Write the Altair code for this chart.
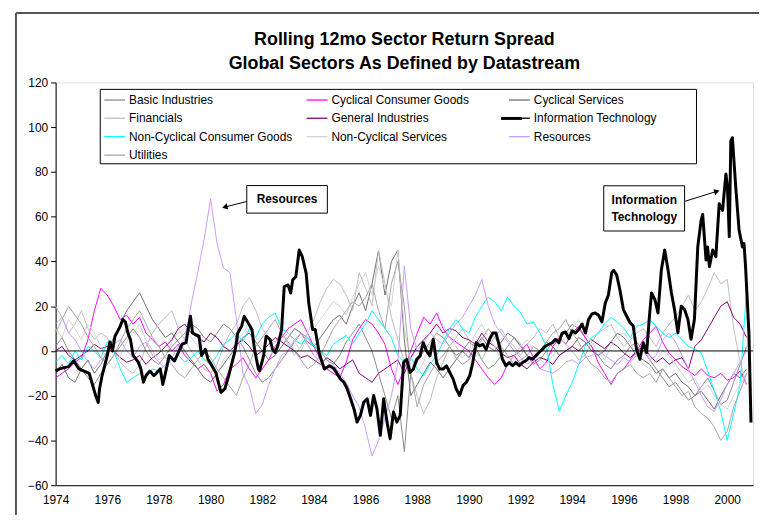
import altair as alt
import pandas as pd

SERIES = ["Basic Industries", "Cyclical Consumer Goods", "Cyclical Services",
          "Financials", "General Industries", "Information Technology",
          "Non-Cyclical Consumer Goods", "Non-Cyclical Services", "Resources", "Utilities"]
COLORS = ["#8C8C8C", "#FF00FF", "#6E6E6E", "#BEBEBE", "#800080", "#000000",
          "#00FFFF", "#D2D2D2", "#CC99FF", "#A6A6A6"]

TITLE_LINES = ["Rolling 12mo Sector Return Spread", "Global Sectors As Defined by Datastream"]

# quarterly readings 1974.00 ... 2000.75 (4 per year)
quarters = [1974 + q / 4 for q in range(108)]

basic = [2, 6, 0, -4, -8, -12, -15, -10, -6, -2, 2, 6, 10, 6, 0, -4,
         -6, -2, 2, 5, 8, 12, 10, 6, 4, 8, 12, 10, 6, 2, -4, -10,
         -14, -12, -8, -4, 0, 4, 8, 6, 2, 0, -4, -6, -2, 4, 8, 12,
         6, 0, -10, -20, -30, -20, -45, -10, -5, 0, 4, 8, 6, 2, -2, 0,
         4, 2, -4, -8, -6, -2, 2, 6, 3, -2, -6, -4, 0, 4, 6, 8,
         12, 10, 6, 2, -2, -6, -8, -4, -2, 2, 4, 0, -4, -8, -12, -16,
         -14, -18, -22, -20, -16, -12, -18, -24, -22, -14, -6, 2]
cyc_consumer = [-12, -10, -8, -5, -3, 5, 18, 28, 25, 20, 14, 16, 12, 15, 8, 5,
                2, 4, 0, 3, -2, -5, -8, -6, -10, -18, -15, -8, -6, -3, -8, -12,
                -8, -4, 2, 6, 10, 12, 14, 8, 2, -4, -8, -10, -12, -5, 5, 10,
                14, 12, 8, 3, -8, -15, -8, 0, 8, 15, 12, 17, 10, 6, 4, 2,
                0, -4, -8, -12, -15, -12, -6, -2, 0, 3, -3, -8, -5, 2, 6, 3,
                8, 11, 6, 2, -5, -10, -15, -10, -8, -4, 0, 5, 8, 11, 4, -1,
                -4, -7, -9, -11, -8, -11, -12, -10, -13, -12, -9, -15]
cyc_services = [-10, -6, -12, -14, -8, -4, -10, -6, 0, 6, 12, 18, 22, 26, 20, 14,
                10, 6, 8, 4, 0, -4, -8, -12, -14, -10, -6, -2, 2, 6, 8, 4,
                0, -4, -2, 2, 6, 10, 8, 4, 2, 6, 10, 14, 16, 12, 20, 26,
                18, 30, 45, 25, 40, 45, 5, -20, -15, -10, -5, -8, -12, -8, -4, 0,
                -3, 2, 6, 2, 0, 4, 8, 6, 2, -2, -4, 0, 4, 2, -2, 0,
                2, 6, 4, 0, -2, 0, 4, 8, 6, 2, -2, -4, -6, -10, -8, -12,
                -10, -14, -16, -20, -18, -22, -26, -20, -15, -10, -12, -8]
financials = [20, 15, 8, 12, 18, 10, 5, 8, 6, 0, -5, -8, -10, -6, 2, 8,
              12, 15, 18, 10, 5, 0, -4, -8, -10, -6, 2, 8, 12, 20, 24, 18,
              10, 6, 4, 8, 3, -2, 2, 8, 14, 22, 28, 32, 30, 25, 18, 35,
              28, 20, 45, 30, 15, 5, -5, -10, -20, -28, -22, -12, -5, 2, 6, 10,
              5, 0, -4, 2, 6, 10, 5, 2, -2, 3, 6, 10, 8, 12, 6, 3,
              0, -4, -2, 4, 8, 10, 12, 6, 2, 5, 8, 10, 6, 2, 8, 12,
              15, 20, 25, 18, 22, 28, 35, 30, 32, 10, -5, -15]
general_ind = [0, 2, -2, -4, -2, 0, 3, 1, 2, 0, -3, -5, -4, -2, -6, -3,
               -1, 2, 5, 10, 12, 8, 6, 4, 8, 6, 2, 0, 3, 5, 2, -2,
               0, 3, 6, 4, 2, 0, -3, -2, -4, -6, -3, -5, -8, -6, -4, -10,
               -12, -14, -10, -8, -6, -4, -10, -3, 2, 5, 8, 12, 8, 10, 9, 6,
               5, 3, 8, 4, 2, -1, -3, -2, -6, -8, -5, -3, -4, -6, -2, 0,
               2, 0, 3, 5, 3, 1, 4, 2, -1, -3, 0, 2, -2, -5, -3, -6,
               -4, -3, -8, 2, 5, 10, 15, 20, 22, 15, 12, 6]
nc_consumer = [-5, -2, -6, 0, -4, 2, 0, -3, 4, 0, -8, -14, -12, -10, -12, -8,
               -9, -6, -4, -2, -5, -3, 0, -4, -6, -2, 3, 5, 8, 4, 10, 6,
               12, 15, 17, 10, 8, 5, 3, 6, 2, 0, -2, 3, 5, 7, 3, 8,
               12, 18, 14, 10, 6, -2, -5, -3, -8, -11, -6, -2, 4, 10, 14, 10,
               8, 15, 20, 24, 22, 18, 24, 20, 17, 12, 13, 8, 2, -15, -27, -20,
               -14, -6, 2, 6, 8, 12, 15, 13, 10, 6, 11, 12, 14, 11, 8, 6,
               8, 5, 2, 1, -1, -9, -18, -27, -40, -28, -15, 28]
nc_services = [10, 6, 14, 10, 5, 12, 8, 2, -4, -8, -2, 4, 8, 12, 5, 0,
               -4, -2, 4, 8, 10, 6, 2, -3, -6, -10, -4, 0, 4, 8, 12, 6,
               2, -2, 0, 5, 8, 4, 0, 6, 10, 14, 18, 22, 20, 16, 24, 30,
               35, 25, 38, 28, 20, 45, 10, -5, -10, -5, 4, 8, 12, 6, 2, -3,
               0, 8, 12, 6, 2, -4, -6, -2, 2, 5, 0, -4, -6, -2, 3, 6,
               10, 14, 8, 4, 0, -4, 2, 6, 8, 4, -2, -6, -8, -4, 0, -2,
               -6, -10, -14, -12, -18, -15, -20, -24, -26, -20, -15, -10]
resources = [12, 15, 8, 5, 0, -5, -8, -4, -2, 3, 5, 0, -3, 2, 4, -2,
             -5, -8, -3, 2, 5, 21, 35, 50, 68, 48, 37, 35, 14, -10, -16, -28,
             -24, -15, -8, -2, 0, 5, 8, 3, -2, -5, -8, -6, -10, -14, -20, -25,
             -35, -47, -40, -30, -20, -5, 38, 10, 0, 4, 8, 5, 3, 8, 12, 15,
             20, 25, 32, 20, 12, 8, 4, 0, -3, -6, -4, -8, -9, -10, -8, -5,
             -4, -6, -3, -2, 0, -2, -4, -6, -3, -5, -2, 2, -4, -2, 5, 8,
             4, -2, -8, -14, -20, -25, -27, -22, -15, -10, -5, 0]
utilities = [8, 14, 20, 16, 12, 6, 2, -3, -6, -2, 4, 10, 14, 18, 12, 6,
             2, -3, -6, -10, -12, -8, -4, 0, -3, -8, -12, -16, -20, -12, -6, 2,
             6, 10, 14, 8, 4, 0, -4, -8, -6, -2, 4, 10, 14, 18, 22, 20,
             24, 30, 18, 10, 30, 40, 20, -10, -25, -15, -10, -5, -2, 2, -3, -6,
             -4, 0, 5, 10, 6, 2, -2, -6, -4, -2, 2, 0, 4, 8, 10, 14,
             8, 4, -2, -6, -8, -12, -14, -10, -8, -6, -10, -12, -10, -14, -8, -12,
             -16, -20, -18, -25, -28, -30, -34, -40, -36, -25, -18, -10]

# Information Technology, read at roughly monthly resolution
it_years = [1974.0, 1974.15, 1974.5, 1974.7, 1974.9, 1975.1, 1975.3, 1975.4, 1975.55, 1975.65,
            1975.7, 1975.8, 1976.0, 1976.1, 1976.2, 1976.3, 1976.5, 1976.6, 1976.7, 1976.8,
            1976.9, 1977.0, 1977.2, 1977.3, 1977.4, 1977.5, 1977.65, 1977.8, 1977.9, 1978.05,
            1978.15, 1978.25, 1978.4, 1978.6, 1978.75, 1978.9, 1979.05, 1979.15, 1979.22, 1979.3,
            1979.4, 1979.55, 1979.65, 1979.8, 1979.9, 1980.05, 1980.2, 1980.3, 1980.4, 1980.55,
            1980.7, 1980.8, 1980.95, 1981.05, 1981.2, 1981.3, 1981.45, 1981.6, 1981.7, 1981.85,
            1981.9, 1982.05, 1982.15, 1982.3, 1982.4, 1982.5, 1982.6, 1982.75, 1982.85, 1983.0,
            1983.1, 1983.18, 1983.3, 1983.43, 1983.55, 1983.7, 1983.8, 1983.95, 1984.05, 1984.2,
            1984.4, 1984.6, 1984.78, 1985.03, 1985.16, 1985.29, 1985.42, 1985.55, 1985.67, 1985.8,
            1985.93, 1986.06, 1986.19, 1986.31, 1986.44, 1986.57, 1986.7, 1986.83, 1986.95, 1987.08,
            1987.21, 1987.34, 1987.47, 1987.59, 1987.72, 1987.85, 1987.98, 1988.11, 1988.23, 1988.36,
            1988.49, 1988.62, 1988.75, 1988.87, 1989.0, 1989.13, 1989.26, 1989.39, 1989.51, 1989.64,
            1989.77, 1989.9, 1990.03, 1990.15, 1990.28, 1990.41, 1990.54, 1990.67, 1990.8, 1990.92,
            1991.05, 1991.18, 1991.3, 1991.43, 1991.56, 1991.69, 1991.82, 1991.95, 1992.07, 1992.2,
            1992.33, 1992.46, 1992.59, 1992.71, 1992.84, 1992.97, 1993.1, 1993.23, 1993.35, 1993.48,
            1993.61, 1993.74, 1993.87, 1994.0, 1994.12, 1994.25, 1994.38, 1994.51, 1994.63, 1994.76,
            1994.89, 1995.02, 1995.15, 1995.28, 1995.4, 1995.53, 1995.6, 1995.72, 1995.85, 1995.98,
            1996.11, 1996.24, 1996.36, 1996.49, 1996.62, 1996.75, 1996.88, 1997.0, 1997.07, 1997.2,
            1997.32, 1997.45, 1997.58, 1997.71, 1997.84, 1997.96, 1998.09, 1998.22, 1998.35, 1998.48,
            1998.6, 1998.73, 1998.86, 1998.99, 1999.05, 1999.18, 1999.24, 1999.31, 1999.44, 1999.56,
            1999.69, 1999.82, 1999.95, 2000.01, 2000.08, 2000.14, 2000.2, 2000.33, 2000.46, 2000.59,
            2000.65, 2000.71, 2000.84, 2000.92]
it_vals = [-9, -8, -7, -4.4, -8, -9, -10, -14, -20, -23,
           -17, -11, -2, 4, 0, 6.6, 11, 14, 13, 8,
           5, -2, -5, -8, -14, -11, -9, -11, -10, -8,
           -15, -10, -2, -4.5, -0.7, 3, 3.7, 11, 15.5, 8,
           7.4, 6.6, -2, 0.7, -3.7, -6.6, -9.6, -14, -18.5, -17,
           -11, -6.6, 0.2, 8, 11, 15.5, 12.6, 9.6, 0.7, -8,
           -8.9, -2.2, 6.6, 5.2, 0.7, -0.7, 2.2, 9.6, 28.8, 29.5,
           25.9, 31.8, 33.2, 45.1, 42.1, 34.7, 21.4, 9.6, 9.6, -0.7,
           -8.1, -6.6, -8, -12.6, -14, -17, -21.4, -25.9, -31.8, -28.8,
           -22.9, -21.4, -28.8, -19.9, -25.9, -37.7, -21.4, -31.8, -39.2, -27.3,
           -31.8, -28.8, -5.2, -3.7, -9.6, -8.1, -3.7, -2.2, 3.7, 0,
           -2.2, 5.2, -5.2, -8.1, -8.1, -6.6, -9.6, -12.6, -17, -19.9,
           -15.5, -14, -11.1, -5.2, 3.7, 2.2, 3, 0.7, 5.2, 8,
           8, 2.2, -3.7, -6.6, -5.2, -6.6, -5.2, -6.6, -5.2, -4.4,
           -3, -3.7, -2.2, -0.7, 0.7, 2.2, 3, 3.7, 5.2, 3.7,
           8, 8.5, 5.5, 9, 8, 9.6, 12, 8, 14, 16.5,
           17, 16, 13, 21.4, 25, 35, 36, 34, 27, 18.5,
           15.5, 12.6, 11.1, 0.7, -3.7, 3.7, -0.7, 17, 25.9, 22.9,
           17, 36.2, 45.1, 36.2, 25.9, 18.5, 8.1, 20, 18.5, 14,
           5.2, 14, 46.5, 58.4, 61, 40.6, 46.5, 37.7, 45.1, 42.1,
           65.8, 62.8, 79.1, 73.2, 51, 93.9, 95.3, 73.2, 53.9, 46.5,
           48, 37.7, 8.1, -32]

thin_lists = {
    "Basic Industries": basic,
    "Cyclical Consumer Goods": cyc_consumer,
    "Cyclical Services": cyc_services,
    "Financials": financials,
    "General Industries": general_ind,
    "Non-Cyclical Consumer Goods": nc_consumer,
    "Non-Cyclical Services": nc_services,
    "Resources": resources,
    "Utilities": utilities,
}

rows = []
for name, vals in thin_lists.items():
    for t, v in zip(quarters, vals):
        rows.append({"series": name, "t": t, "v": v})
thin_df = pd.DataFrame(rows)
it_df = pd.DataFrame({"series": "Information Technology", "t": it_years, "v": it_vals})

FONT = "Liberation Sans"

x_enc = alt.X("t:Q", scale=alt.Scale(domain=[1974, 2001], nice=False, zero=False),
              axis=alt.Axis(values=list(range(1974, 2001, 2)), format="d", title=None,
                            grid=False, ticks=False, labelPadding=9, labelFlush=False,
                            labelOverlap=False, domainColor="#000000",
                            labelFont=FONT, labelFontSize=12, labelColor="#000000"))
y_enc = alt.Y("v:Q", scale=alt.Scale(domain=[-60, 120], nice=False),
              axis=alt.Axis(values=list(range(-60, 121, 20)), title=None, grid=False,
                            tickSize=5, tickColor="#000000", domainColor="#000000",
                            labelPadding=3, labelFont=FONT, labelFontSize=12,
                            labelColor="#000000"))
color_enc = alt.Color("series:N", scale=alt.Scale(domain=SERIES, range=COLORS),
                      legend=alt.Legend(orient="none", legendX=47, legendY=5, columns=3,
                                        direction="horizontal", title=None,
                                        symbolType="stroke", symbolSize=441,
                                        symbolStrokeWidth=1.3,
                                        labelFont=FONT, labelFontSize=12,
                                        labelColor="#000000", labelLimit=300,
                                        labelOffset=3, gridAlign="all",
                                        columnPadding=11, rowPadding=0.6, padding=1))

# legend frame (decoration, pixel coordinates relative to the plot area)
legend_box = alt.Chart(pd.DataFrame({"a": [0]})).mark_rect(
    fill="#FFFFFF", stroke="#000000", strokeWidth=1).encode(
    x=alt.value(45), x2=alt.value(646), y=alt.value(7), y2=alt.value(82))
# thicker key line for Information Technology inside the legend
legend_it = alt.Chart(pd.DataFrame({"a": [0]})).mark_rule(
    color="#000000", strokeWidth=3).encode(
    x=alt.value(449), x2=alt.value(470), y=alt.value(36.3))

thin = alt.Chart(thin_df).mark_line(strokeWidth=1).encode(x=x_enc, y=y_enc, color=color_enc)
it_line = alt.Chart(it_df).mark_line(strokeWidth=3, strokeJoin="round").encode(
    x=x_enc, y=y_enc, color=color_enc)

zero = alt.Chart(pd.DataFrame({"v": [0]})).mark_rule(color="#000000", strokeWidth=1).encode(y="v:Q")

# annotations (data coordinates)
boxes = pd.DataFrame({"x1": [1981.40, 1995.22], "x2": [1984.52, 1998.35],
                      "y1": [61.6, 53.6], "y2": [73.9, 73.8]})
box_layer = alt.Chart(boxes).mark_rect(fill="#FFFFFF", stroke="#000000", strokeWidth=1).encode(
    x="x1:Q", x2="x2:Q", y="y1:Q", y2="y2:Q")
labels = pd.DataFrame({"x": [1982.96, 1996.79, 1996.79], "y": [67.7, 67.6, 59.8],
                       "txt": ["Resources", "Information", "Technology"]})
label_layer = alt.Chart(labels).mark_text(font=FONT, fontSize=12, fontWeight="bold",
                                          color="#000000", baseline="middle").encode(
    x="x:Q", y="y:Q", text="txt:N")
arrows = pd.DataFrame({"x1": [1981.40, 1998.37], "y1": [66.8, 66.9],
                       "x2": [1980.62, 1999.53], "y2": [64.5, 71.1]})
arrow_lines = alt.Chart(arrows).mark_rule(color="#000000", strokeWidth=1).encode(
    x="x1:Q", y="y1:Q", x2="x2:Q", y2="y2:Q")
heads = pd.DataFrame({"x": [1980.55, 1999.60], "y": [64.3, 71.3], "ang": [166, 343]})
head_layer = alt.Chart(heads).mark_point(shape="triangle-right", filled=True, color="#000000",
                                         size=40, opacity=1).encode(
    x="x:Q", y="y:Q", angle=alt.Angle("ang:Q", scale=None))

# outer chart-area border: only the top and left edges fall inside the picture
frame_top = alt.Chart(pd.DataFrame({"a": [0]})).mark_rule(
    color="#555555", strokeWidth=2).encode(
    x=alt.value(-40), x2=alt.value(720), y=alt.value(-70))
frame_left = alt.Chart(pd.DataFrame({"a": [0]})).mark_rule(
    color="#555555", strokeWidth=2).encode(
    x=alt.value(-40), y=alt.value(-70), y2=alt.value(440))

title_df = pd.DataFrame({"line": TITLE_LINES, "k": [0, 1]})
title_1 = alt.Chart(title_df).transform_filter("datum.k == 0").mark_text(
    font=FONT, fontSize=18, fontWeight="bold", color="#000000", baseline="middle",
    align="center").encode(text="line:N", x=alt.value(351.5), y=alt.value(-43))
title_2 = alt.Chart(title_df).transform_filter("datum.k == 1").mark_text(
    font=FONT, fontSize=18, fontWeight="bold", color="#000000", baseline="middle",
    align="center").encode(text="line:N", x=alt.value(351.5), y=alt.value(-19))

chart = alt.layer(frame_top, frame_left, thin, zero, it_line, legend_box, legend_it,
                  box_layer, label_layer, arrow_lines, head_layer, title_1, title_2).properties(
    width=703, height=406,
    padding={"left": 48, "top": 73, "right": 6, "bottom": 28},
    autosize=alt.AutoSizeParams(type="none"),
).configure_view(stroke="#808080", strokeWidth=1).configure(background="#FFFFFF")

chart.save("out.html", embed_options={"renderer": "svg", "actions": False})
